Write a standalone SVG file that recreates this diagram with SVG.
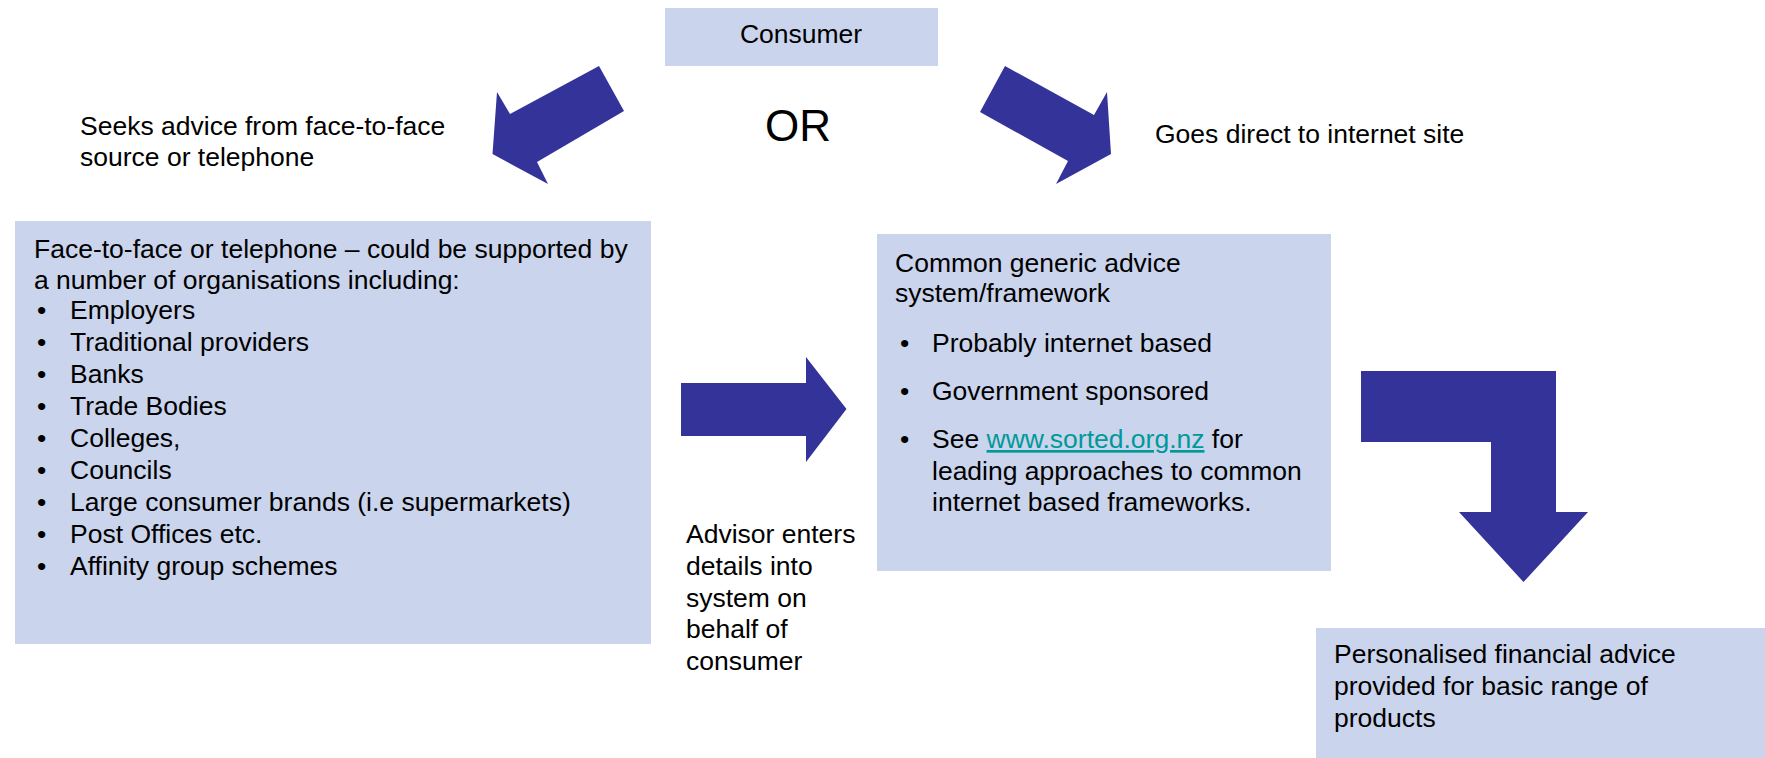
<svg xmlns="http://www.w3.org/2000/svg" width="1765" height="758" viewBox="0 0 1765 758">
<style>
.box{fill:#CAD4EC}
.arr{fill:#333399}
text{font-family:"Liberation Sans",Arial,sans-serif;font-size:26.5px;fill:#000}
.or{font-size:44px}
.link{fill:#009999;text-decoration:underline}
</style>
<rect width="1765" height="758" fill="#fff"/>
<g id="connectors">
<polygon class="arr" points="599,66 624,111 537,162 548,184 492.5,154 497,92 510,114"/>
<polygon class="arr" points="1005,66 1094,115 1107,92 1111,154 1056,184 1068,161 980,112"/>
<polygon class="arr" points="681,383 806,383 806,357 846.5,409 806,462 806,436 681,436"/>
<polygon class="arr" points="1361,371 1556,371 1556,512 1588,512 1523.5,582 1459,512 1491,512 1491,442 1361,442"/>
</g>
<g id="consumer">
<rect class="box" x="665" y="8" width="273" height="58"/>
<text x="801" y="43" text-anchor="middle">Consumer</text>
</g>
<g id="or-label">
<text class="or" x="798" y="141" text-anchor="middle">OR</text>
</g>
<g id="seeks-label">
<text x="80" y="135">Seeks advice from face-to-face</text>
<text x="80" y="166">source or telephone</text>
</g>
<g id="goes-label">
<text x="1155" y="143">Goes direct to internet site</text>
</g>
<g id="face-to-face">
<rect class="box" x="15" y="221" width="636" height="423"/>
<text x="34" y="258">Face-to-face or telephone – could be supported by</text>
<text x="34" y="289">a number of organisations including:</text>
<g>
<text x="37" y="319">•</text><text x="70" y="319">Employers</text>
<text x="37" y="351">•</text><text x="70" y="351">Traditional providers</text>
<text x="37" y="383">•</text><text x="70" y="383">Banks</text>
<text x="37" y="415">•</text><text x="70" y="415">Trade Bodies</text>
<text x="37" y="447">•</text><text x="70" y="447">Colleges,</text>
<text x="37" y="479">•</text><text x="70" y="479">Councils</text>
<text x="37" y="511">•</text><text x="70" y="511">Large consumer brands (i.e supermarkets)</text>
<text x="37" y="543">•</text><text x="70" y="543">Post Offices etc.</text>
<text x="37" y="575">•</text><text x="70" y="575">Affinity group schemes</text>
</g>
</g>
<g id="advisor-label">
<text x="686" y="543">Advisor enters</text>
<text x="686" y="575">details into</text>
<text x="686" y="607">system on</text>
<text x="686" y="638">behalf of</text>
<text x="686" y="670">consumer</text>
</g>
<g id="framework">
<rect class="box" x="877" y="234" width="454" height="337"/>
<text x="895" y="272">Common generic advice</text>
<text x="895" y="302">system/framework</text>
<text x="900" y="352">•</text><text x="932" y="352">Probably internet based</text>
<text x="900" y="400">•</text><text x="932" y="400">Government sponsored</text>
<text x="900" y="448">•</text><text x="932" y="448">See <tspan class="link">www.sorted.org.nz</tspan> for</text>
<text x="932" y="480">leading approaches to common</text>
<text x="932" y="511">internet based frameworks.</text>
</g>
<g id="personalised">
<rect class="box" x="1316" y="628" width="449" height="130"/>
<text x="1334" y="663">Personalised financial advice</text>
<text x="1334" y="695">provided for basic range of</text>
<text x="1334" y="727">products</text>
</g>
</svg>
